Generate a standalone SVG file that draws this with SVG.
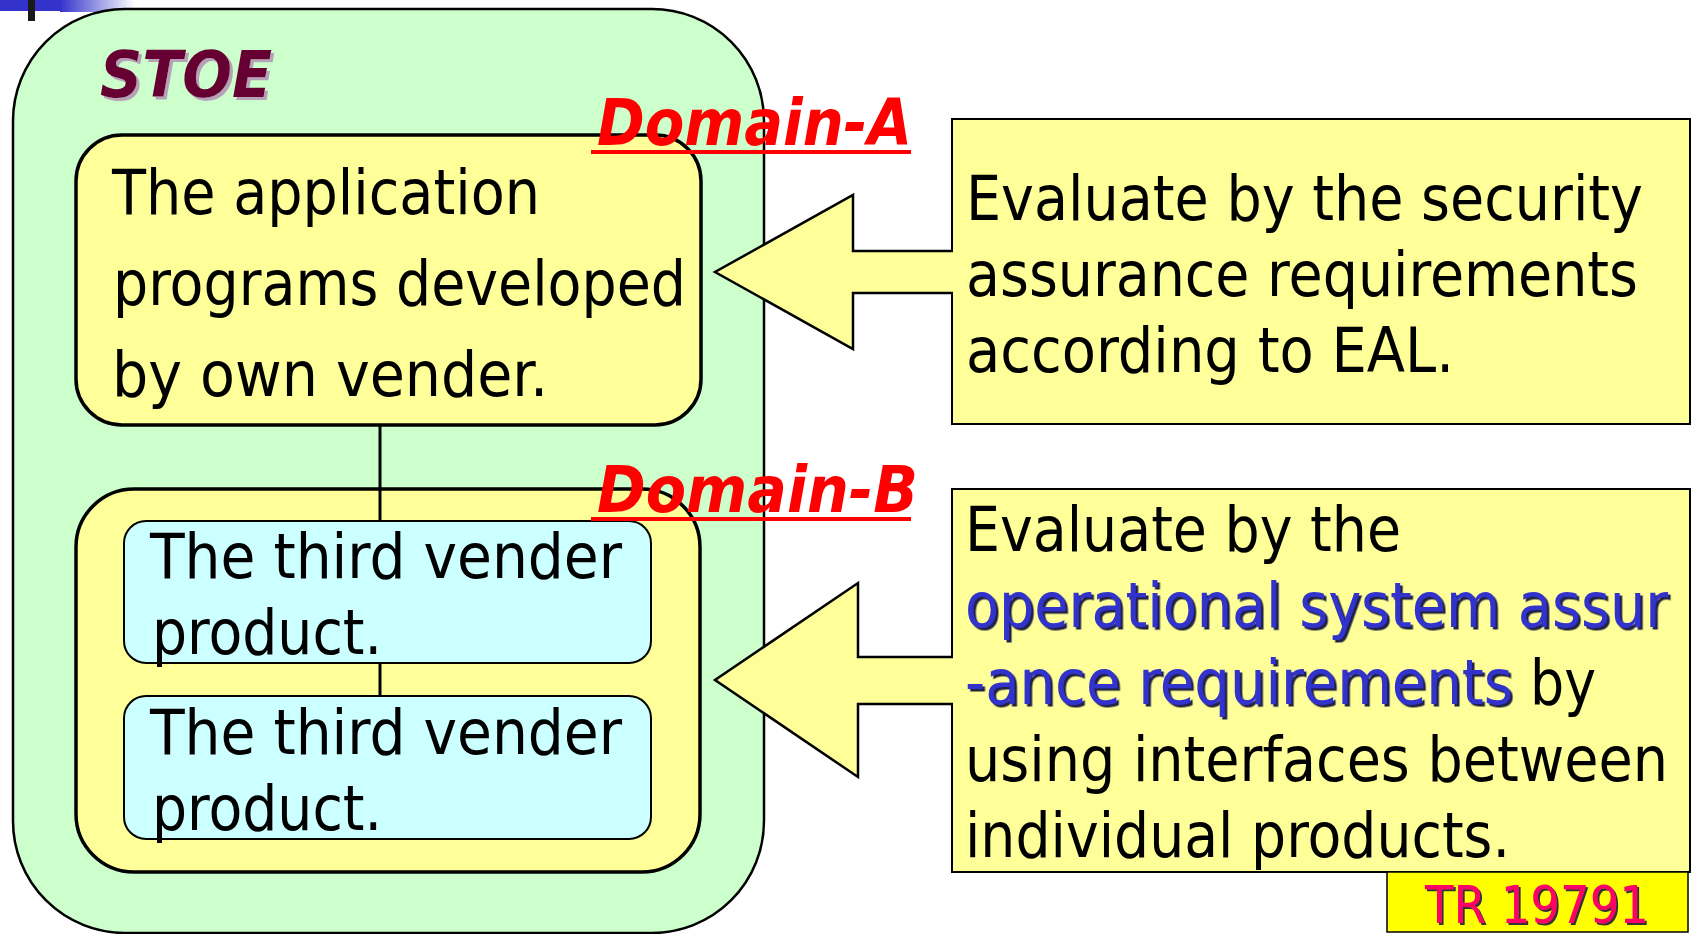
<svg xmlns="http://www.w3.org/2000/svg" width="1696" height="934" viewBox="0 0 1696 934">
  <defs>
    <style>
      .t { font-family: "DejaVu Sans Condensed", "DejaVu Sans", sans-serif; font-stretch: condensed; }
      .body { font-size: 63px; fill: #000000; }
      .blue { font-size: 63px; fill: #3333CC; filter: url(#shBlue); }
      .dom { font-size: 64px; font-weight: bold; font-style: italic; fill: #FF0000; }
      .stoe { font-size: 64px; font-weight: bold; font-style: italic; fill: #660033; filter: url(#shStoe); }
      .tr { font-size: 52px; fill: #FF0066; filter: url(#shTr); }
      .outer { fill: #CCFFCC; stroke: #000; stroke-width: 2.5; }
      .domain { fill: #FFFF99; stroke: #000; stroke-width: 3.5; }
      .cyan { fill: #CCFFFF; stroke: #000; stroke-width: 2; }
      .tbox { fill: #FFFF99; stroke: #000; stroke-width: 2; }
      .afill { fill: #FFFF99; stroke: none; }
      .aline { fill: none; stroke: #000; stroke-width: 2.5; stroke-linejoin: miter; }
      .conn { stroke: #000; stroke-width: 3; fill: none; }
    </style>
    <filter id="shBlue" x="-5%" y="-20%" width="110%" height="140%">
      <feDropShadow dx="2.5" dy="2.5" stdDeviation="0" flood-color="#222244" flood-opacity="1"/>
    </filter>
    <filter id="shStoe" x="-5%" y="-20%" width="110%" height="140%">
      <feDropShadow dx="3" dy="3" stdDeviation="0" flood-color="#B8A0B8" flood-opacity="1"/>
    </filter>
    <filter id="shTr" x="-5%" y="-20%" width="110%" height="140%">
      <feDropShadow dx="2" dy="2" stdDeviation="0" flood-color="#333333" flood-opacity="1"/>
    </filter>
    <linearGradient id="barGrad" x1="0" y1="0" x2="1" y2="0">
      <stop offset="0" stop-color="#3333CC"/>
      <stop offset="1" stop-color="#FFFFFF"/>
    </linearGradient>
  </defs>

  <rect x="0" y="0" width="1696" height="934" fill="#FFFFFF"/>

  <g id="topbar">
    <rect x="0" y="0" width="60" height="11" fill="#3333CC"/>
    <rect x="60" y="0" width="75" height="12" fill="url(#barGrad)"/>
    <rect x="28" y="0" width="7" height="21" fill="#1A1A1A"/>
  </g>

  <g id="stoe">
    <rect class="outer" x="13" y="9" width="751" height="924" rx="112" ry="112"/>
    <text class="t stoe" x="100" y="97" textLength="172" lengthAdjust="spacingAndGlyphs">STOE</text>
  </g>

  <g id="domainA">
    <rect class="domain" x="76" y="135" width="625" height="290" rx="46" ry="46"/>
    <text class="t body" x="112" y="214" textLength="428" lengthAdjust="spacingAndGlyphs">The application</text>
    <text class="t body" x="113" y="305" textLength="573" lengthAdjust="spacingAndGlyphs">programs developed</text>
    <text class="t body" x="112" y="396" textLength="436" lengthAdjust="spacingAndGlyphs">by own vender.</text>
  </g>

  <g id="domainB">
    <rect class="domain" x="76" y="489" width="624" height="383" rx="58" ry="58"/>
  </g>

  <g id="connectors">
    <line class="conn" x1="380" y1="425" x2="380" y2="521"/>
    <line class="conn" x1="380" y1="663" x2="380" y2="696"/>
  </g>

  <g id="product1">
    <rect class="cyan" x="124" y="521" width="527" height="142" rx="22" ry="22"/>
    <text class="t body" x="150" y="578" textLength="472" lengthAdjust="spacingAndGlyphs">The third vender</text>
    <text class="t body" x="152" y="654" textLength="230" lengthAdjust="spacingAndGlyphs">product.</text>
  </g>

  <g id="product2">
    <rect class="cyan" x="124" y="696" width="527" height="143" rx="22" ry="22"/>
    <text class="t body" x="150" y="754" textLength="472" lengthAdjust="spacingAndGlyphs">The third vender</text>
    <text class="t body" x="152" y="830" textLength="230" lengthAdjust="spacingAndGlyphs">product.</text>
  </g>

  <g id="evalA">
    <rect class="tbox" x="952" y="119" width="738" height="305"/>
    <text class="t body" x="966" y="220" textLength="677" lengthAdjust="spacingAndGlyphs">Evaluate by the security</text>
    <text class="t body" x="966" y="296" textLength="672" lengthAdjust="spacingAndGlyphs">assurance requirements</text>
    <text class="t body" x="966" y="372" textLength="488" lengthAdjust="spacingAndGlyphs">according to EAL.</text>
  </g>

  <g id="arrowA">
    <polygon class="afill" points="715,272 853,195 853,251 956,251 956,293 853,293 853,349"/>
    <polyline class="aline" points="953,251 853,251 853,195 715,272 853,349 853,293 953,293"/>
  </g>

  <g id="evalB">
    <rect class="tbox" x="952" y="489" width="738" height="383"/>
    <text class="t body" x="965" y="551" textLength="436" lengthAdjust="spacingAndGlyphs">Evaluate by the</text>
    <text class="t blue" x="965" y="627" textLength="703" lengthAdjust="spacingAndGlyphs">operational system assur</text>
    <text class="t blue" x="965" y="704" textLength="548" lengthAdjust="spacingAndGlyphs">-ance requirements</text>
    <text class="t body" x="1530" y="704" textLength="66" lengthAdjust="spacingAndGlyphs">by</text>
    <text class="t body" x="965" y="781" textLength="703" lengthAdjust="spacingAndGlyphs">using interfaces between</text>
    <text class="t body" x="965" y="857" textLength="545" lengthAdjust="spacingAndGlyphs">individual products.</text>
  </g>

  <g id="arrowB">
    <polygon class="afill" points="715,680 858,583 858,657 956,657 956,704 858,704 858,777"/>
    <polyline class="aline" points="953,657 858,657 858,583 715,680 858,777 858,704 953,704"/>
  </g>

  <g id="labelA">
    <text class="t dom" x="597" y="145" textLength="315" lengthAdjust="spacingAndGlyphs">Domain-A</text>
    <rect x="591" y="150" width="320" height="4" fill="#FF0000"/>
  </g>

  <g id="labelB">
    <text class="t dom" x="597" y="512" textLength="321" lengthAdjust="spacingAndGlyphs">Domain-B</text>
    <rect x="591" y="517" width="320" height="4" fill="#FF0000"/>
  </g>

  <g id="tr">
    <rect x="1387" y="872" width="301" height="60" fill="#FFFF00" stroke="#000" stroke-width="1.5"/>
    <text class="t tr" x="1425" y="923" textLength="224" lengthAdjust="spacingAndGlyphs">TR 19791</text>
  </g>
</svg>
